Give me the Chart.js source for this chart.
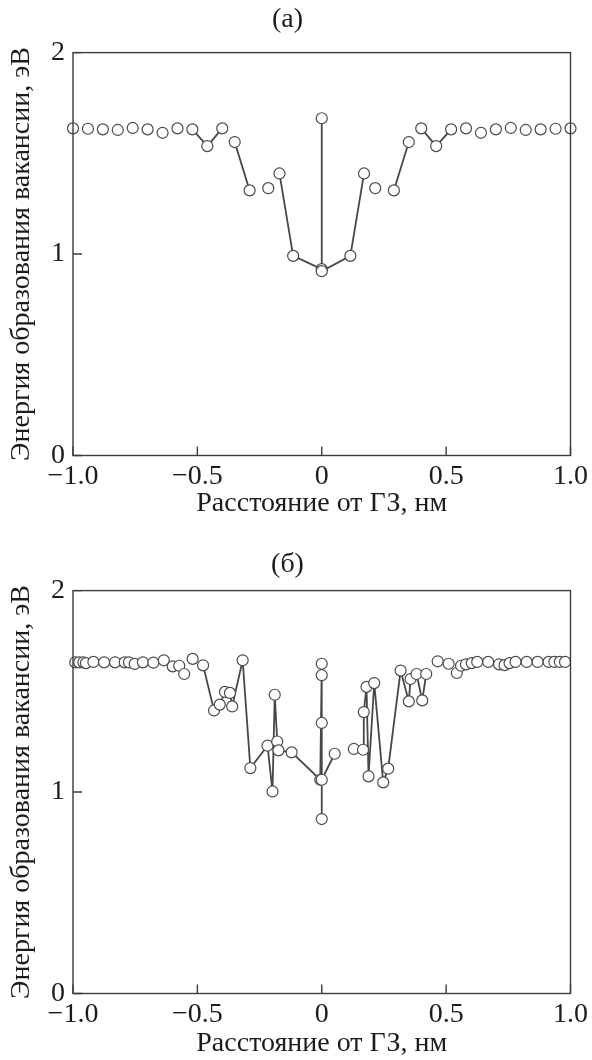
<!DOCTYPE html>
<html lang="ru">
<head>
<meta charset="UTF-8">
<title>Энергия образования вакансии</title>
<script src="https://cdn.jsdelivr.net/npm/chart.js"></script>
<style>
  body { margin: 0; background: #fff; }
  .janela { position: relative; width: 592px; height: 1060px; }
  .painel { position: absolute; left: 0; width: 592px; height: 522px; }
</style>
</head>
<body>
<div class="janela">
  <div class="painel" style="top:0"><canvas id="graficoA" width="592" height="522"></canvas></div>
  <div class="painel" style="top:538px"><canvas id="graficoB" width="592" height="522"></canvas></div>
</div>

<script>
// panel (а)
const xA = [-1.0, -0.94, -0.88, -0.82, -0.76, -0.70, -0.64, -0.58, -0.52, -0.46, -0.40, -0.35,
  -0.29, -0.215, -0.17, -0.115, 0, 0, 0, 0.115, 0.17, 0.215, 0.29, 0.35,
  0.40, 0.46, 0.52, 0.58, 0.64, 0.70, 0.76, 0.82, 0.88, 0.94, 1.0];
const yA = [1.624, 1.622, 1.619, 1.616, 1.626, 1.619, 1.602, 1.624, 1.619, 1.536, 1.624, 1.556,
  1.316, 1.327, 1.400, 0.991, 0.925, 1.674, 0.915, 0.991, 1.400, 1.327, 1.316, 1.556,
  1.624, 1.536, 1.619, 1.624, 1.602, 1.619, 1.626, 1.616, 1.619, 1.622, 1.624];
// runs of point indices that are joined by the line
const runsA = [[8, 10], [11, 12], [14, 20], [22, 23], [24, 26]];

// panel (б)
const xB = [-0.991, -0.975, -0.958, -0.948, -0.918, -0.875, -0.831, -0.792, -0.775, -0.752, -0.719, -0.677,
  -0.635, -0.599, -0.573, -0.553, -0.519, -0.477,
  -0.433, -0.410, -0.389, -0.369, -0.360, -0.318, -0.287, -0.218, -0.198, -0.189, -0.179, -0.174,
  -0.121, -0.006, 0, 0, 0, 0, 0, 0.052, 0.129, 0.166, 0.169, 0.180, 0.188, 0.211,
  0.247, 0.267, 0.317, 0.350, 0.357, 0.381, 0.404, 0.420,
  0.466, 0.510, 0.543, 0.560, 0.580, 0.603, 0.625, 0.669, 0.713, 0.735, 0.755, 0.779,
  0.824, 0.868, 0.912, 0.935, 0.957, 0.978];
const yB = [1.644, 1.644, 1.644, 1.640, 1.646, 1.644, 1.644, 1.644, 1.644, 1.636, 1.644, 1.642,
  1.654, 1.624, 1.627, 1.586, 1.661, 1.629,
  1.405, 1.434, 1.497, 1.492, 1.425, 1.654, 1.119, 1.230, 1.003, 1.483, 1.251, 1.207,
  1.197, 1.061, 1.637, 1.580, 1.343, 0.866, 1.061, 1.190, 1.214, 1.210, 1.397, 1.522, 1.078, 1.541,
  1.048, 1.116, 1.603, 1.450, 1.561, 1.586, 1.455, 1.586,
  1.649, 1.637, 1.591, 1.627, 1.634, 1.640, 1.646, 1.646, 1.634, 1.630, 1.640, 1.646,
  1.646, 1.646, 1.646, 1.646, 1.646, 1.646];
const runsB = [[17, 37], [38, 51]];

const xTickVals = [-1, -0.5, 0, 0.5, 1];
const xTickLabels = ['\u22121.0', '\u22120.5', '0', '0.5', '1.0'];
const yTickVals = [0, 1, 2];
const yTickLabels = ['0', '1', '2'];

const tituloX = 'Расстояние от ГЗ, нм';
const tituloY = 'Энергия образования вакансии, эВ';

const corTexto = '#1c1c1c';
const corLinha = '#474747';
const fonte = { family: '"Liberation Serif", "Times New Roman", serif', size: 28 };

Chart.defaults.font.family = fonte.family;

// frame round the plot and inward tick marks
const moldura = {
    id: 'moldura',
    afterDraw(chart) {
        const ctx = chart.ctx;
        const a = chart.chartArea;
        const sx = chart.scales.x;
        const sy = chart.scales.y;
        ctx.save();
        ctx.strokeStyle = '#3c3c3c';
        ctx.lineWidth = 1.4;
        ctx.strokeRect(a.left, a.top, a.right - a.left, a.bottom - a.top);
        ctx.beginPath();
        xTickVals.forEach(v => {
            const px = sx.getPixelForValue(v);
            ctx.moveTo(px, a.bottom);
            ctx.lineTo(px, a.bottom - 9);
        });
        yTickVals.forEach(v => {
            const py = sy.getPixelForValue(v);
            ctx.moveTo(a.left, py);
            ctx.lineTo(a.left + 9, py);
        });
        ctx.stroke();
        ctx.restore();
    }
};

function ligado(runs, i, j) {
    return runs.some(r => i >= r[0] && j <= r[1]);
}

function criarGrafico(id, titulo, xs, ys, runs, padTitulo, padEixoX) {
    const pontos = xs.map((x, i) => ({ x: x, y: ys[i] }));

    new Chart(document.getElementById(id), {
        type: 'scatter',
        data: {
            datasets: [{
                data: pontos,
                showLine: true,
                borderColor: corLinha,
                borderWidth: 1.8,
                pointRadius: 5.5,
                pointBorderWidth: 1.2,
                pointBorderColor: '#4a4a4a',
                pointBackgroundColor: '#ffffff',
                clip: false,
                segment: {
                    borderColor: c => ligado(runs, c.p0DataIndex, c.p1DataIndex) ? corLinha : 'rgba(0,0,0,0)'
                }
            }]
        },
        options: {
            responsive: false,
            animation: false,
            layout: { padding: { left: 0, right: 17, top: 0, bottom: 0 } },
            plugins: {
                legend: { display: false },
                tooltip: { enabled: false },
                title: {
                    display: true,
                    text: titulo,
                    color: corTexto,
                    font: { size: 28, weight: 'normal' },
                    padding: padTitulo
                }
            },
            scales: {
                x: {
                    type: 'linear',
                    min: -1,
                    max: 1,
                    afterBuildTicks: s => { s.ticks = xTickVals.map(v => ({ value: v })); },
                    afterFit: s => { s.height = 66.5; },
                    ticks: {
                        callback: v => xTickLabels[xTickVals.indexOf(v)],
                        color: corTexto,
                        font: fonte,
                        padding: 4,
                        maxRotation: 0,
                        autoSkip: false
                    },
                    grid: { display: false, drawTicks: false },
                    border: { display: false },
                    title: {
                        display: true,
                        text: tituloX,
                        color: corTexto,
                        font: fonte,
                        padding: { top: 0, bottom: padEixoX }
                    }
                },
                y: {
                    min: 0,
                    max: 2,
                    afterBuildTicks: s => { s.ticks = yTickVals.map(v => ({ value: v })); },
                    afterFit: s => { s.width = 73; },
                    ticks: {
                        callback: v => yTickLabels[yTickVals.indexOf(v)],
                        color: corTexto,
                        font: fonte,
                        padding: 8
                    },
                    grid: { display: false, drawTicks: false },
                    border: { display: false },
                    title: {
                        display: true,
                        text: tituloY,
                        color: corTexto,
                        font: fonte,
                        padding: { top: 5, bottom: 0 }
                    }
                }
            }
        },
        plugins: [moldura]
    });
}

criarGrafico('graficoA', '(а)', xA, yA, runsA, { top: 3, bottom: 16 }, 2);
criarGrafico('graficoB', '(б)', xB, yB, runsB, { top: 10, bottom: 9 }, 0);
</script>
</body>
</html>
